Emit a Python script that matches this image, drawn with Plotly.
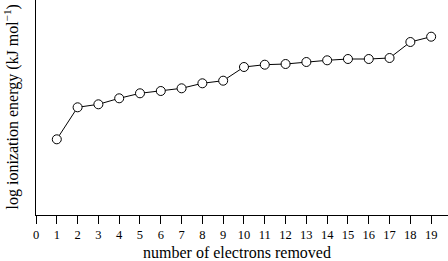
import plotly.graph_objects as go

electrons = list(range(1, 20))
# relative log ionization energy (arbitrary units)
log_ie = [75.7, 107.7, 110.7, 116.7, 121.7, 124.0, 126.7, 131.7, 134.3, 148.0,
          150.3, 151.0, 153.0, 154.7, 156.0, 156.0, 157.0, 173.0, 178.3]
tick_vals = list(range(0, 20))

FONT = "Liberation Serif, Times New Roman, serif"

fig = go.Figure()
fig.add_trace(go.Scatter(
    x=electrons, y=log_ie, mode="lines+markers",
    line=dict(color="black", width=1),
    marker=dict(symbol="circle", size=9, color="white",
                line=dict(color="black", width=1)),
    showlegend=False, cliponaxis=False,
))

fig.update_layout(
    width=448, height=261,
    margin=dict(l=36, r=0, t=0, b=46),
    paper_bgcolor="white", plot_bgcolor="white",
    font=dict(family=FONT, color="black", size=12),
    xaxis=dict(range=[0, 19.81], tickvals=tick_vals, ticks="outside",
               ticklen=8, tickwidth=1, tickcolor="black",
               showline=True, linecolor="black", linewidth=1,
               showgrid=False, zeroline=False,
               tickfont=dict(family=FONT, size=12.5, color="black")),
    yaxis=dict(range=[0, 215], showticklabels=False, ticks="",
               showline=True, linecolor="black", linewidth=1,
               showgrid=False, zeroline=False),
    annotations=[
        dict(text="number of electrons removed", xref="paper", yref="paper",
             x=201/412, y=-37/215, xanchor="center", yanchor="middle",
             showarrow=False, font=dict(family=FONT, size=16, color="black")),
        dict(text="log ionization energy (kJ mol<sup>−1</sup>)", xref="paper", yref="paper",
             x=-24/412, y=0.5, xanchor="center", yanchor="middle", textangle=-90,
             showarrow=False, font=dict(family=FONT, size=16, color="black")),
    ],
)

fig.write_html("out.html")
